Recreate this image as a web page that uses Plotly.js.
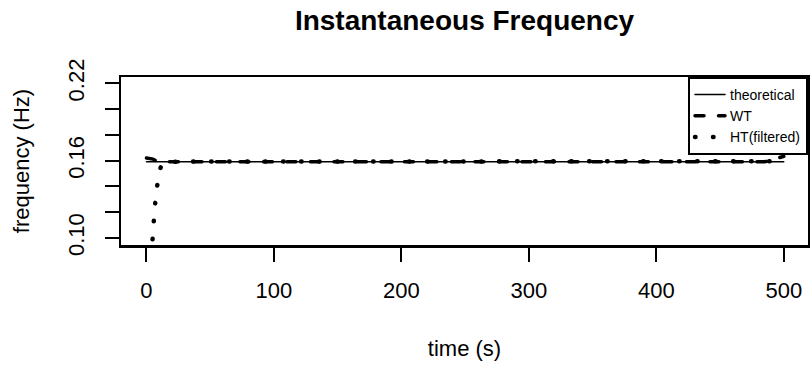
<!DOCTYPE html>
<html>
<head>
<meta charset="utf-8">
<script src="https://cdn.plot.ly/plotly-3.0.1.min.js"></script>
<style>
html,body{margin:0;padding:0;background:#fff;}
#chart{width:810px;height:369px;}
#chart path.js-line{stroke-linecap:round;}
</style>
</head>
<body>
<div id="chart"></div>
<script>
// ---- data ----
var theoTime = [0, 500];
var theoFreq = [0.15915, 0.15915];

var wtTime = [0, 3, 5, 7, 9, 12, 20, 100, 200, 300, 400, 480, 485, 490, 495, 500];
var wtFreq = [0.1620, 0.1619, 0.1612, 0.1601, 0.1595, 0.1592, 0.1592, 0.1592, 0.1592, 0.1592, 0.1592, 0.1591, 0.1591, 0.1602, 0.1618, 0.1634];

var htTime = [3.8, 4.5, 5.3, 6.4, 7.9, 9.7, 12, 15, 20, 100, 200, 300, 400, 480, 490, 494, 497, 500];
var htFreq = [0.085, 0.0961, 0.1095, 0.1229, 0.1366, 0.1502, 0.1575, 0.1590, 0.1592, 0.1592, 0.1592, 0.1592, 0.1592, 0.1592, 0.1596, 0.1612, 0.1662, 0.1700];

var seriesNames = ["theoretical", "WT", "HT(filtered)"];
var xTickVals = [0, 100, 200, 300, 400, 500];
var yTickVals = [0.10, 0.12, 0.14, 0.16, 0.18, 0.20, 0.22];
var yTickText = ["0.10", "", "", "0.16", "", "", "0.22"];

var FONT = "Liberation Sans, Arial, sans-serif";

var traces = [
  {x: theoTime, y: theoFreq, name: seriesNames[0], mode: "lines",
   line: {color: "black", width: 1.5}},
  {x: wtTime, y: wtFreq, name: seriesNames[1], mode: "lines",
   line: {color: "black", width: 3.5, dash: "9px,14.5px"}},
  {x: htTime, y: htFreq, name: seriesNames[2], mode: "lines",
   line: {color: "black", width: 4.5, dash: "0.5px,17.5px"}}
];

var layout = {
  width: 810, height: 369,
  margin: {l: 121, r: 2, t: 77, b: 124, pad: 0},
  paper_bgcolor: "white", plot_bgcolor: "white",
  font: {family: FONT, color: "black", size: 22},
  title: {text: "<b>Instantaneous Frequency</b>", x: 0.5, xref: "paper", xanchor: "center",
          y: 1 - 30/369, yref: "container", yanchor: "bottom",
          font: {family: FONT, size: 28, color: "black"}},
  showlegend: true,
  legend: {x: 1, xanchor: "right", y: 1, yanchor: "top", xref: "paper", yref: "paper",
           bgcolor: "white", bordercolor: "black", borderwidth: 2,
           font: {family: FONT, size: 14, color: "black"}, tracegroupgap: 0},
  xaxis: {range: [-20, 519], tickvals: xTickVals, ticktext: xTickVals.map(String),
          showgrid: false, zeroline: false, showline: true, mirror: true,
          linecolor: "black", linewidth: 2.5,
          ticks: "outside", ticklen: 14, tickwidth: 2, tickcolor: "black",
          ticklabelstandoff: 10,
          tickfont: {family: FONT, size: 22, color: "black"},
          title: {text: "time (s)", standoff: 39, font: {family: FONT, size: 22, color: "black"}}},
  yaxis: {range: [0.0945, 0.2249], tickvals: yTickVals, ticktext: yTickText,
          showgrid: false, zeroline: false, showline: true, mirror: true,
          linecolor: "black", linewidth: 2.5,
          ticks: "outside", ticklen: 14, tickwidth: 2, tickcolor: "black",
          tickangle: -90, ticklabelstandoff: 12,
          tickfont: {family: FONT, size: 22, color: "black"},
          title: {text: "frequency (Hz)", standoff: 28, font: {family: FONT, size: 22, color: "black"}}}
};

Plotly.newPlot("chart", traces, layout, {displayModeBar: false, staticPlot: true});
</script>
</body>
</html>
